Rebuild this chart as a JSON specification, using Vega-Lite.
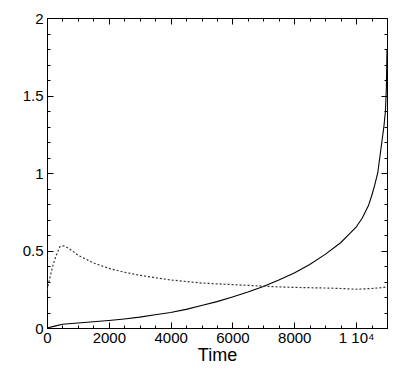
{
  "$schema": "https://vega.github.io/schema/vega-lite/v6.json",
  "width": 340,
  "height": 310,
  "autosize": {"type": "none"},
  "padding": {"left": 47, "top": 18, "right": 16, "bottom": 43},
  "background": "white",
  "config": {
    "view": {"stroke": "black", "strokeWidth": 1},
    "axis": {
      "labelFont": "Liberation Sans",
      "titleFont": "Liberation Sans",
      "labelColor": "black",
      "titleColor": "black",
      "domainColor": "black",
      "tickColor": "black",
      "tickWidth": 1,
      "ticks": true,
      "grid": false,
      "labelFontSize": 15,
      "labelFontWeight": "normal",
      "titleFontWeight": "normal",
      "labelOverlap": false,
      "labelFlush": false
    }
  },
  "datasets": {
    "solid": [
      {"t": 0, "v": 0}, {"t": 250, "v": 0.012}, {"t": 500, "v": 0.024}, {"t": 1000, "v": 0.032},
      {"t": 1500, "v": 0.04}, {"t": 2000, "v": 0.048}, {"t": 2500, "v": 0.058}, {"t": 3000, "v": 0.07},
      {"t": 3500, "v": 0.085}, {"t": 4000, "v": 0.1}, {"t": 4500, "v": 0.12}, {"t": 5000, "v": 0.145},
      {"t": 5500, "v": 0.17}, {"t": 6000, "v": 0.2}, {"t": 6500, "v": 0.232}, {"t": 7000, "v": 0.268},
      {"t": 7500, "v": 0.31}, {"t": 8000, "v": 0.355}, {"t": 8500, "v": 0.41}, {"t": 9000, "v": 0.475},
      {"t": 9500, "v": 0.55}, {"t": 9800, "v": 0.61}, {"t": 10000, "v": 0.65}, {"t": 10200, "v": 0.71},
      {"t": 10400, "v": 0.79}, {"t": 10500, "v": 0.85}, {"t": 10600, "v": 0.92}, {"t": 10700, "v": 1.0},
      {"t": 10800, "v": 1.15}, {"t": 10900, "v": 1.3}, {"t": 10950, "v": 1.4}, {"t": 10980, "v": 1.55},
      {"t": 11000, "v": 1.8}
    ],
    "dotted": [
      {"t": 0, "v": 0.245}, {"t": 100, "v": 0.33}, {"t": 200, "v": 0.41}, {"t": 300, "v": 0.47},
      {"t": 420, "v": 0.525}, {"t": 550, "v": 0.53}, {"t": 650, "v": 0.52}, {"t": 800, "v": 0.5},
      {"t": 1000, "v": 0.47}, {"t": 1200, "v": 0.45}, {"t": 1500, "v": 0.42}, {"t": 2000, "v": 0.385},
      {"t": 2500, "v": 0.36}, {"t": 3000, "v": 0.34}, {"t": 3500, "v": 0.325}, {"t": 4000, "v": 0.31},
      {"t": 4500, "v": 0.3}, {"t": 5000, "v": 0.29}, {"t": 5500, "v": 0.285}, {"t": 6000, "v": 0.28},
      {"t": 6500, "v": 0.275}, {"t": 7000, "v": 0.27}, {"t": 7500, "v": 0.265}, {"t": 8000, "v": 0.262},
      {"t": 8500, "v": 0.26}, {"t": 9000, "v": 0.258}, {"t": 9500, "v": 0.255}, {"t": 10000, "v": 0.25},
      {"t": 10500, "v": 0.255}, {"t": 10800, "v": 0.26}, {"t": 11000, "v": 0.265}
    ]
  },
  "layer": [
    {
      "data": {"name": "solid"},
      "mark": {"type": "line", "color": "black", "strokeWidth": 1.1, "clip": true},
      "encoding": {
        "x": {
          "field": "t", "type": "quantitative",
          "scale": {"domain": [0, 11000], "nice": false, "zero": false},
          "axis": {
            "orient": "bottom", "values": [0, 2000, 4000, 6000, 8000, 10000],
            "tickSize": -6, "labelPadding": 8, "title": "Time", "titleFontSize": 18, "titlePadding": 1,
            "labelExpr": "datum.value == 10000 ? '1 10⁴' : format(datum.value, 'd')"
          }
        },
        "y": {
          "field": "v", "type": "quantitative",
          "scale": {"domain": [0, 2], "nice": false},
          "axis": {
            "orient": "left", "values": [0, 0.5, 1, 1.5, 2], "format": "~g",
            "tickSize": -6, "labelPadding": 10, "title": null
          }
        }
      }
    },
    {
      "data": {"name": "dotted"},
      "mark": {"type": "line", "color": "#333333", "strokeWidth": 1.2, "strokeDash": [2, 2], "clip": true},
      "encoding": {
        "x": {
          "field": "t", "type": "quantitative",
          "scale": {"domain": [0, 11000], "nice": false, "zero": false},
          "axis": {"orient": "top", "values": [0, 2000, 4000, 6000, 8000, 10000], "tickSize": -6, "labels": false, "title": null}
        },
        "y": {
          "field": "v", "type": "quantitative",
          "scale": {"domain": [0, 2], "nice": false},
          "axis": {"orient": "right", "values": [0, 0.5, 1, 1.5, 2], "tickSize": -6, "labels": false, "title": null}
        }
      }
    },
    {
      "data": {"name": "solid"},
      "mark": {"type": "line", "opacity": 0},
      "encoding": {
        "x": {
          "field": "t", "type": "quantitative",
          "scale": {"domain": [0, 11000], "nice": false, "zero": false},
          "axis": {"orient": "bottom", "values": [500, 1000, 1500, 2500, 3000, 3500, 4500, 5000, 5500, 6500, 7000, 7500, 8500, 9000, 9500, 10500], "tickSize": -3, "labels": false, "domain": false, "title": null}
        },
        "y": {
          "field": "v", "type": "quantitative",
          "scale": {"domain": [0, 2], "nice": false},
          "axis": {"orient": "left", "values": [0.1, 0.2, 0.3, 0.4, 0.6, 0.7, 0.8, 0.9, 1.1, 1.2, 1.3, 1.4, 1.6, 1.7, 1.8, 1.9], "tickSize": -3, "labels": false, "domain": false, "title": null}
        }
      }
    },
    {
      "data": {"name": "dotted"},
      "mark": {"type": "line", "opacity": 0},
      "encoding": {
        "x": {
          "field": "t", "type": "quantitative",
          "scale": {"domain": [0, 11000], "nice": false, "zero": false},
          "axis": {"orient": "top", "values": [500, 1000, 1500, 2500, 3000, 3500, 4500, 5000, 5500, 6500, 7000, 7500, 8500, 9000, 9500, 10500], "tickSize": -3, "labels": false, "domain": false, "title": null}
        },
        "y": {
          "field": "v", "type": "quantitative",
          "scale": {"domain": [0, 2], "nice": false},
          "axis": {"orient": "right", "values": [0.1, 0.2, 0.3, 0.4, 0.6, 0.7, 0.8, 0.9, 1.1, 1.2, 1.3, 1.4, 1.6, 1.7, 1.8, 1.9], "tickSize": -3, "labels": false, "domain": false, "title": null}
        }
      }
    }
  ],
  "resolve": {"axis": {"x": "independent", "y": "independent"}}
}
